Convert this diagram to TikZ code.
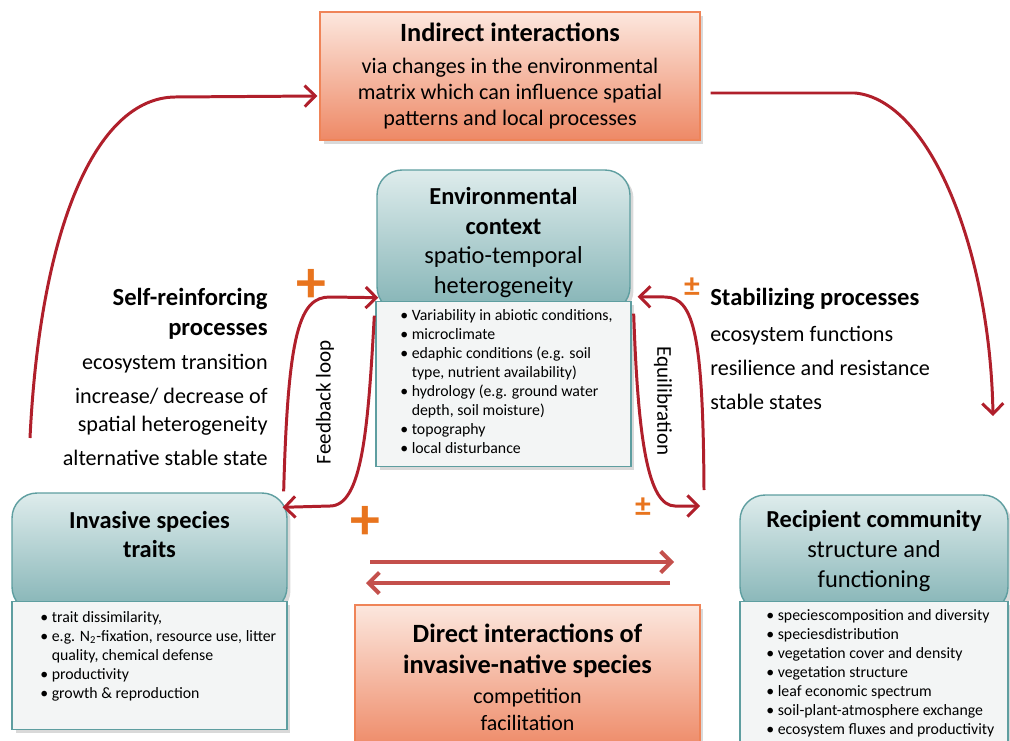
\documentclass[tikz,border=0pt]{standalone}
\usepackage{fontspec}
\setmainfont{Carlito}
\usetikzlibrary{arrows.meta, positioning, shadows, calc}

\definecolor{loopred}{HTML}{B01F2B}
\definecolor{pairred}{HTML}{C4504C}
\definecolor{signorange}{HTML}{E8741E}
\definecolor{tealline}{HTML}{5E9EA0}
\definecolor{tealtop}{HTML}{DEECEC}
\definecolor{tealbottom}{HTML}{83B3B5}
\definecolor{bodygray}{HTML}{F3F5F5}
\definecolor{peachline}{HTML}{EF8458}
\definecolor{peachtop}{HTML}{FCE7DE}
\definecolor{peachbottom}{HTML}{EE8966}

\newcommand{\bul}{\makebox[6.5pt][l]{\textbullet}}
\newcommand{\ind}{\hspace*{6.5pt}}

\begin{document}
\begin{tikzpicture}[x=0.02cm, y=-0.02cm]
    \tikzstyle{peachbox} = [rectangle, draw=peachline, line width=0.8pt, top color=peachtop, bottom color=peachbottom, drop shadow={shadow xshift=2pt, shadow yshift=-2pt, opacity=0.3}]
    \tikzstyle{headbox} = [rectangle, rounded corners=0.5cm, draw=tealline, line width=0.8pt, top color=tealtop, bottom color=tealbottom, drop shadow={shadow xshift=2pt, shadow yshift=-2pt, opacity=0.3}]
    \tikzstyle{bodybox} = [rectangle, draw=tealline, line width=0.8pt, fill=bodygray, drop shadow={shadow xshift=2pt, shadow yshift=-2pt, opacity=0.3}]
    \tikzstyle{headtext} = [align=center, font=\fontsize{13.9}{16.9}\selectfont]
    \tikzstyle{listtext} = [anchor=north west, align=left, inner sep=0pt, font=\fontsize{9}{10.8}\selectfont]
    \tikzstyle{sidetext} = [inner sep=0pt, font=\fontsize{12.6}{15.9}\selectfont]
    \tikzstyle{looplabel} = [inner sep=0pt, font=\fontsize{12}{14}\selectfont]
    \tikzstyle{sign} = [text=signorange, inner sep=0pt]
    \tikzstyle{arrow} = [draw=loopred, line width=1.7pt, ->, >={Straight Barb[length=6pt, width=12pt]}]
    \tikzstyle{pair} = [draw=pairred, line width=2.3pt, ->, >={Straight Barb[length=6pt, width=12pt]}]

    \useasboundingbox (0,0) rectangle (1010,740);
    \clip (0,0) rectangle (1010,740);

    % peach boxes
    \node (indirect) [peachbox, minimum width=7.6cm, minimum height=2.56cm, align=center, font=\fontsize{12.6}{14.8}\selectfont] at (510,76)
        {{\fontsize{15}{18}\selectfont\bfseries Indirect interactions}\\[3.4pt]via changes in the environmental\\matrix which can influence spatial\\patterns and local processes};
    \node (direct) [peachbox, minimum width=6.9cm, minimum height=2.9cm, align=center, font=\fontsize{12.5}{15.4}\selectfont] at (527.5,677.5)
        {{\fontsize{15}{18}\selectfont\bfseries Direct interactions of}\\[2.2pt]{\fontsize{15}{18}\selectfont\bfseries invasive-native species}\\[1.6pt]competition\\facilitation};

    % teal boxes
    \node (envhead) [headbox, minimum width=5.06cm, minimum height=2.84cm] at (503.5,241) {};
    \node (envbody) [bodybox, minimum width=5.1cm, minimum height=3.3cm, below=-0.24cm of envhead] {};
    \node (invhead) [headbox, minimum width=5.5cm, minimum height=2.38cm] at (149.5,552.5) {};
    \node (invbody) [bodybox, minimum width=5.5cm, minimum height=2.56cm, below=-0.24cm of invhead] {};
    \node (rechead) [headbox, minimum width=5.36cm, minimum height=2.34cm] at (874,553.5) {};
    \node (recbody) [bodybox, minimum width=5.36cm, minimum height=2.96cm, below=-0.24cm of rechead] {};

    \node (envtitle) [headtext] at (503.5,242.5) {\textbf{Environmental}\\\textbf{context}\\spatio-temporal\\heterogeneity};
    \node (invtitle) [headtext] at (149.5,534.5) {\textbf{Invasive species}\\\textbf{traits}};
    \node (rectitle) [headtext] at (874,551) {\textbf{Recipient community}\\structure and\\functioning};

    \node (envlist) [listtext] at (400,309) {\bul Variability in abiotic conditions,\\\bul microclimate\\\bul edaphic conditions (e.g. soil\\\ind type, nutrient availability)\\\bul hydrology (e.g. ground water\\\ind depth, soil moisture)\\\bul topography\\\bul local disturbance};
    \node (invlist) [listtext] at (40,611) {\bul trait dissimilarity,\\\bul e.g. N\textsubscript{2}-fixation, resource use, litter\\\ind quality, chemical defense\\\bul productivity\\\bul growth \& reproduction};
    \node (reclist) [listtext] at (766,609) {\bul speciescomposition and diversity\\\bul speciesdistribution\\\bul vegetation cover and density\\\bul vegetation structure\\\bul leaf economic spectrum\\\bul soil-plant-atmosphere exchange\\\bul ecosystem fluxes and productivity};

    % side texts
    \node (selfrein) [sidetext, align=right, anchor=east] at (268,377)
        {\textbf{\fontsize{14}{16}\selectfont Self-reinforcing}\\[1.1pt]\textbf{\fontsize{14}{16}\selectfont processes}\\[3.4pt]ecosystem transition\\[3.4pt]increase/ decrease of\\spatial heterogeneity\\[3.4pt]alternative stable state};
    \node (stabil) [sidetext, align=left, anchor=west, font=\fontsize{12.6}{19.3}\selectfont] at (710,349)
        {\textbf{\fontsize{14}{16}\selectfont Stabilizing processes}\\[1.1pt]ecosystem functions\\resilience and resistance\\stable states};

    \node (feedlabel) [looplabel, rotate=90] at (325,402) {Feedback loop};
    \node (equilabel) [looplabel, rotate=-90] at (663,401) {Equilibration};

    \node (plusfeed) [sign, font=\fontsize{34}{34}\selectfont\bfseries] at (311,286) {+};
    \node (plusdirect) [sign, font=\fontsize{34}{34}\selectfont\bfseries] at (365,523) {+};
    \node (pmstab) [sign, font=\fontsize{18}{18}\selectfont\bfseries] at (692,287) {±};
    \node (pmequi) [sign, font=\fontsize{18}{18}\selectfont\bfseries] at (643,507) {±};

    \coordinate (leftfoot) at (30,438);
    \coordinate (rightfoot) at (993,416);
    \coordinate (equistart) at (704,490);
    \coordinate (equiend) at (700,506);
    \coordinate (pairA) at (370,562);
    \coordinate (pairB) at (674,562);
    \coordinate (pairC) at (670,583);
    \coordinate (pairD) at (366,583);

    % outer arcs
    \draw [arrow] (leftfoot) .. controls (40,230) and (95,98) .. (175,97) -- ($(indirect.west)+(-2,20)$);
    \draw [arrow] ($(indirect.east)+(10,17)$) -- (855,93) .. controls (930,100) and (990,250) .. (rightfoot);

    % feedback loop
    \draw [arrow] ($(invhead.north east)+(-4,-1)$) .. controls (288,330) and (300,297) .. (330,297) -- ($(envbody.north west)+(3,-3)$);
    \draw [arrow] ($(envbody.north west)+(-1,15)$) .. controls (368,430) and (362,506) .. (330,506) -- ($(invhead.north east)+(-5,15)$);

    % equilibration
    \draw [arrow] (equistart) .. controls (703,340) and (695,297) .. (665,297) -- ($(envbody.north east)+(6,-4)$);
    \draw [arrow] ($(envbody.north east)+(2,13)$) .. controls (638,440) and (648,506) .. (675,506) -- (equiend);

    % direct interactions
    \draw [pair] (pairA) -- (pairB);
    \draw [pair] (pairC) -- (pairD);
\end{tikzpicture}
\end{document}
